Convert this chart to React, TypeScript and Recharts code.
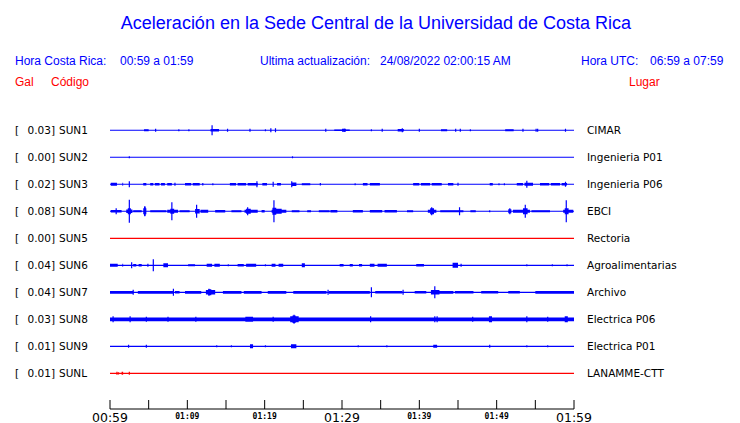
import { Area, ComposedChart, Line, XAxis, YAxis } from "recharts"

type Burst = [number, number, number] // start min, end min, amplitude
type Spike = [number, number] // minute, amplitude

const CODES = ["SUN1", "SUN2", "SUN3", "SUN4", "SUN5", "SUN6", "SUN7", "SUN8", "SUN9", "SUNL"]
const GAL = ["0.03", "0.00", "0.02", "0.08", "0.00", "0.04", "0.04", "0.03", "0.01", "0.01"]
const PLACES = [
  "CIMAR",
  "Ingenieria P01",
  "Ingenieria P06",
  "EBCI",
  "Rectoria",
  "Agroalimentarias",
  "Archivo",
  "Electrica P06",
  "Electrica P01",
  "LANAMME-CTT",
]
const RED_CODES = ["SUN5", "SUNL"]

const TICK_MINUTES = [0, 5, 10, 15, 20, 25, 30, 35, 40, 45, 50, 55, 60]
const TICK_LABELS = ["00:59", "", "01:09", "", "01:19", "", "01:29", "", "01:39", "", "01:49", "", "01:59"]
const BIG_LABELS = ["00:59", "01:29", "01:59"]

const SUN1_BURSTS: Burst[] = [[4.4, 5.0, 1], [13.0, 14.1, 1.2], [29.0, 31.0, 0.8], [30.0, 30.5, 1.5], [37.2, 38.0, 1.2], [42.8, 43.6, 1], [51.1, 52.2, 1]]
const SUN1_SPIKES: Spike[] = [[5.9, 1.5], [8.9, 1], [10.2, 1], [13.2, 5], [15.2, 1.5], [18.1, 1.5], [20.1, 1], [20.8, 2], [21.4, 2], [27.9, 1.5], [30.3, 1.5], [33.8, 1], [35.2, 1.5], [37.8, 2], [40.0, 1.5], [44.7, 1.5], [45.3, 1.5], [46.6, 1], [53.4, 1.5], [55.1, 1.5], [55.3, 1.5], [58.9, 1.5]]

const SUN2_BURSTS: Burst[] = []
const SUN2_SPIKES: Spike[] = [[2.5, 1], [23.6, 1]]

const SUN3_BURSTS: Burst[] = [[0.1, 0.9, 1.5], [1.6, 1.7, 1.5], [4.3, 4.7, 1.2], [5.2, 5.6, 1.2], [5.8, 6.4, 1.3], [6.6, 7.1, 1.3], [7.4, 8.0, 1.2], [9.7, 10.5, 1.3], [10.7, 11.6, 1.3], [15.5, 16.3, 1.3], [16.5, 17.6, 1.3], [17.8, 19.1, 1.3], [19.7, 20.3, 1.2], [21.6, 22.1, 1.2], [23.5, 24.1, 1.8], [24.8, 25.9, 1.1], [32.7, 33.3, 1.3], [33.6, 34.9, 1.3], [39.2, 40.0, 1.3], [40.2, 41.4, 1.3], [41.6, 42.9, 1.3], [43.7, 44.4, 1.3], [49.1, 49.5, 1.3], [52.6, 53.4, 1.3], [53.6, 54.7, 1.5], [55.6, 56.8, 1.3], [57.0, 58.2, 1.3], [58.4, 59.1, 1.3]]
const SUN3_SPIKES: Spike[] = [[2.5, 3], [8.4, 1.5], [12.0, 1.2], [13.3, 1], [19.0, 3], [21.1, 2.5], [23.5, 3], [27.2, 1.2], [31.7, 1], [45.0, 1.5], [50.3, 1], [51.0, 1], [53.9, 3.5], [58.9, 2.5]]

const SUN4_BURSTS: Burst[] = [[0.1, 1.5, 1.3], [2.1, 2.9, 1.8], [2.3, 2.7, 3], [3.0, 4.1, 1], [4.3, 4.7, 3], [4.4, 4.6, 4.5], [5.2, 7.3, 1], [7.4, 8.8, 1.5], [7.8, 8.3, 2.5], [9.0, 10.3, 1], [11.0, 11.6, 2.2], [11.7, 12.7, 1.5], [13.6, 14.9, 1.3], [15.7, 17.0, 1], [17.4, 19.1, 1.4], [17.6, 18.2, 2.5], [19.6, 20.0, 1.2], [20.9, 22.8, 1.5], [21.0, 22.2, 2.5], [21.0, 21.5, 3.5], [23.5, 24.5, 1], [25.5, 26.0, 1], [27.0, 28.4, 1.1], [28.5, 29.4, 1.3], [31.4, 32.7, 1.3], [33.6, 35.2, 1.3], [35.5, 37.1, 1.3], [38.4, 39.2, 1], [41.1, 42.2, 1.5], [41.4, 41.9, 3], [42.7, 45.7, 1], [46.6, 47.3, 1], [51.5, 51.9, 2], [52.1, 54.3, 1.5], [53.4, 54.0, 3], [54.5, 56.9, 1], [58.6, 59.9, 1.5], [58.8, 59.3, 3]]
const SUN4_SPIKES: Spike[] = [[0.8, 3], [2.5, 11.5], [4.5, 5], [8.0, 9], [11.2, 6.5], [17.8, 4], [21.2, 11], [41.6, 4], [45.2, 4], [49.1, 1], [51.7, 3], [53.7, 6.5], [59.0, 11]]

const SUN5_BURSTS: Burst[] = []
const SUN5_SPIKES: Spike[] = []

const SUN6_BURSTS: Burst[] = [[0.0, 1.0, 1.5], [1.6, 1.7, 1.5], [3.0, 3.4, 1.2], [3.7, 4.1, 1.2], [6.9, 7.5, 2], [10.1, 11.0, 1], [12.5, 13.2, 1.5], [13.5, 14.2, 1.5], [16.5, 17.3, 1.3], [17.6, 18.9, 1.5], [20.9, 21.4, 1.5], [21.8, 22.4, 1.5], [24.8, 25.2, 2], [29.7, 30.2, 1.2], [31.0, 31.4, 1.2], [32.2, 32.6, 1.2], [33.6, 34.2, 1.5], [34.6, 35.8, 1.5], [39.6, 40.6, 1.2], [44.3, 45.0, 2.5]]
const SUN6_SPIKES: Spike[] = [[2.8, 3], [4.9, 1.5], [5.6, 6], [15.3, 1], [20.1, 1], [45.4, 1.5], [53.9, 1], [57.2, 1], [59.1, 1]]

const SUN7_BURSTS: Burst[] = [[0, 3.0, 1.4], [3.6, 8.2, 1.4], [8.4, 9.0, 1.2], [9.7, 11.8, 1.4], [12.4, 13.6, 2.2], [12.7, 13.1, 3], [14.6, 17.0, 1.4], [17.3, 19.6, 1.4], [20.4, 22.8, 1.4], [23.7, 28.0, 1.4], [28.3, 33.6, 1.4], [34.3, 37.8, 1.3], [39.4, 40.9, 1.2], [41.5, 42.6, 2.2], [42.6, 44.4, 1.4], [44.6, 47.0, 1.2], [48.0, 50.2, 1.2], [51.5, 53.0, 1.2], [55.0, 60, 1.4]]
const SUN7_SPIKES: Spike[] = [[3.0, 2.5], [8.2, 3.5], [12.8, 3.5], [28.2, 2.5], [33.8, 5], [37.9, 2.5], [42.0, 6]]

const SUN8_BURSTS: Burst[] = [[0, 60, 1.9], [17.5, 18.5, 2.5], [23.3, 24.4, 3], [23.6, 24.0, 3.8], [49.0, 49.4, 3], [58.8, 59.2, 3]]
const SUN8_SPIKES: Spike[] = [[0.4, 3], [2.6, 3], [4.7, 2.5], [7.5, 2.5], [11.1, 2.5], [21.1, 2.5], [23.8, 4.5], [33.7, 3], [42.0, 3], [42.3, 3], [46.9, 2.5], [53.9, 3], [56.6, 2.5]]

const SUN9_BURSTS: Burst[] = [[18.1, 18.5, 2], [23.4, 24.1, 2], [41.8, 42.3, 1.5]]
const SUN9_SPIKES: Spike[] = [[2.4, 1.5], [4.7, 1.5], [13.8, 1], [15.7, 1], [20.1, 1], [32.1, 1], [35.8, 1], [49.1, 1.5], [53.9, 1], [56.6, 1]]

const SUNL_BURSTS: Burst[] = [[1.5, 1.7, 1.5]]
const SUNL_SPIKES: Spike[] = [[0.9, 1.5], [1.1, 1.2], [2.5, 1.5]]

const BURSTS = [SUN1_BURSTS, SUN2_BURSTS, SUN3_BURSTS, SUN4_BURSTS, SUN5_BURSTS, SUN6_BURSTS, SUN7_BURSTS, SUN8_BURSTS, SUN9_BURSTS, SUNL_BURSTS]
const SPIKES = [SUN1_SPIKES, SUN2_SPIKES, SUN3_SPIKES, SUN4_SPIKES, SUN5_SPIKES, SUN6_SPIKES, SUN7_SPIKES, SUN8_SPIKES, SUN9_SPIKES, SUNL_SPIKES]

const ROW_COUNTS = 27 // amplitude counts between two traces
const BLUE = "#0000ff"
const RED = "#ff0000"

// step envelope of the bursts around the trace baseline
function envelopeData(row: number, bursts: Burst[]) {
  const cuts = Array.from(new Set([0, 60, ...bursts.flatMap((b) => [b[0], b[1]])])).sort((a, b) => a - b)
  const pts: { t: number; band: [number, number] }[] = []
  for (let k = 0; k < cuts.length - 1; k++) {
    const a0 = cuts[k]
    const a1 = cuts[k + 1]
    let amp = 0
    for (const [s, e, a] of bursts) if (s <= a0 && e >= a1) amp = Math.max(amp, a)
    const d = amp / ROW_COUNTS
    pts.push({ t: a0, band: [row - d, row + d] }, { t: a1, band: [row - d, row + d] })
  }
  return pts
}

function spikeData(row: number, spikes: Spike[]) {
  const pts = [{ t: 0, v: row }]
  for (const [t, a] of [...spikes].sort((p, q) => p[0] - q[0])) {
    const d = a / ROW_COUNTS
    pts.push({ t, v: row }, { t, v: row - d }, { t, v: row + d }, { t, v: row })
  }
  pts.push({ t: 60, v: row })
  return pts
}

function StationTick(props: any) {
  const { x, y, payload } = props
  const i = payload.value as number
  return (
    <g fontFamily="DejaVu Sans" fontSize={10.5} fill="#000">
      <text x={x - 95} y={y} dy="0.36em">[</text>
      <text x={x - 55} y={y} dy="0.36em" textAnchor="end">{GAL[i]}]</text>
      <text x={x - 51} y={y} dy="0.36em">{CODES[i]}</text>
    </g>
  )
}

function PlaceTick(props: any) {
  const { x, y, payload } = props
  return (
    <text x={x + 13} y={y} dy="0.36em" fontFamily="DejaVu Sans" fontSize={10.5} fill="#000">
      {PLACES[payload.value as number]}
    </text>
  )
}

function TimeTick(props: any) {
  const { x, y, index } = props
  const label = TICK_LABELS[index] ?? ""
  const big = BIG_LABELS.includes(label)
  return (
    <g>
      <line x1={x} y1={y - 9} x2={x} y2={y} stroke="#000" strokeWidth={1} />
      {label && (
        <text
          x={x}
          y={big ? y + 12.5 : y + 10}
          textAnchor="middle"
          fontFamily={big ? "DejaVu Sans" : "DejaVu Sans Mono"}
          fontWeight={big ? 400 : 700}
          fontSize={big ? 12.5 : 8}
          fill="#000"
        >
          {label}
        </text>
      )}
    </g>
  )
}

export default function App() {
  const rows = CODES.map((_, i) => i)
  return (
    <div style={{ position: "absolute", left: 0, top: 0, width: 740, height: 423, background: "#fff" }}>
      <ComposedChart width={740} height={423} margin={{ top: 117, right: 0, bottom: 0, left: 0 }}>
        <XAxis
          dataKey="t"
          type="number"
          domain={[0, 60]}
          ticks={TICK_MINUTES}
          interval={0}
          height={14}
          tickSize={0}
          tickMargin={0}
          tickLine={false}
          axisLine={{ stroke: "#000", strokeWidth: 1 }}
          tick={TimeTick}
          allowDataOverflow
        />
        <YAxis
          yAxisId="rows"
          type="number"
          domain={[-0.49, 10.32]}
          reversed
          ticks={rows}
          interval={0}
          width={110}
          tickSize={0}
          tickMargin={0}
          axisLine={false}
          tickLine={false}
          tick={StationTick}
          allowDataOverflow
        />
        <YAxis
          yAxisId="places"
          orientation="right"
          type="number"
          domain={[-0.49, 10.32]}
          reversed
          ticks={rows}
          interval={0}
          width={166}
          tickSize={0}
          tickMargin={0}
          axisLine={false}
          tickLine={false}
          tick={PlaceTick}
          allowDataOverflow
        />
        {rows.map((i) => {
          const color = RED_CODES.includes(CODES[i]) ? RED : BLUE
          return [
            <Area
              key={`b-${i}`}
              yAxisId="rows"
              data={envelopeData(i, BURSTS[i])}
              dataKey="band"
              type="linear"
              stroke="none"
              fill={color}
              fillOpacity={1}
              isAnimationActive={false}
            />,
            <Line
              key={`s-${i}`}
              yAxisId="rows"
              data={spikeData(i, SPIKES[i])}
              dataKey="v"
              type="linear"
              stroke={color}
              strokeWidth={1.2}
              dot={false}
              isAnimationActive={false}
            />,
          ]
        })}
      </ComposedChart>
      <svg width={740} height={110} style={{ position: "absolute", left: 0, top: 0, pointerEvents: "none" }}>
        <g fontFamily="Liberation Sans" fill={BLUE}>
          <text x={376} y={28.5} textAnchor="middle" fontSize={18}>
            Aceleración en la Sede Central de la Universidad de Costa Rica
          </text>
          <text x={15} y={64.5} fontSize={12}>Hora Costa Rica:</text>
          <text x={120} y={64.5} fontSize={12}>00:59 a 01:59</text>
          <text x={260} y={64.5} fontSize={12}>Ultima actualización:</text>
          <text x={380} y={64.5} fontSize={12}>24/08/2022 02:00:15 AM</text>
          <text x={581} y={64.5} fontSize={12}>Hora UTC:</text>
          <text x={650} y={64.5} fontSize={12}>06:59 a 07:59</text>
        </g>
        <g fontFamily="Liberation Sans" fill={RED} fontSize={12}>
          <text x={15} y={85.5}>Gal</text>
          <text x={51} y={85.5}>Código</text>
          <text x={629} y={85.5}>Lugar</text>
        </g>
      </svg>
    </div>
  )
}
